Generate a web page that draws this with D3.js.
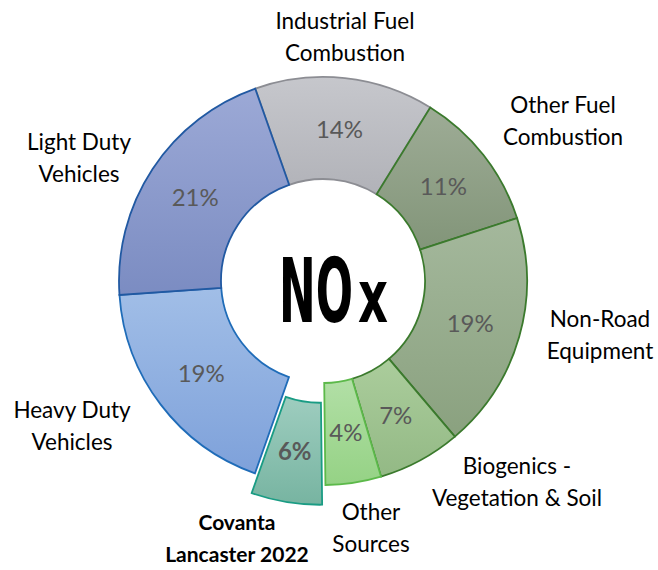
<!DOCTYPE html>
<html>
<head>
<meta charset="utf-8">
<script src="https://cdn.jsdelivr.net/npm/d3@7"></script>
<style>
body { margin: 0; background: #fff; }
svg { display: block; }
</style>
</head>
<body>
<div class="container"></div>
<script>
// slices, clockwise from the top
var categories = ["Industrial Fuel Combustion", "Other Fuel Combustion", "Non-Road Equipment",
  "Biogenics - Vegetation & Soil", "Other Sources", "Covanta Lancaster 2022",
  "Heavy Duty Vehicles", "Light Duty Vehicles"];
var values = [14.2, 11.2, 18.8, 6.6, 4.4, 5.6, 18.5, 20.7];
var labelLines = [["Industrial Fuel", "Combustion"], ["Other Fuel", "Combustion"], ["Non-Road", "Equipment"],
  ["Biogenics -", "Vegetation & Soil"], ["Other", "Sources"], ["Covanta", "Lancaster 2022"],
  ["Heavy Duty", "Vehicles"], ["Light Duty", "Vehicles"]];
var labelPos = [[345, 29], [563, 113], [600, 327], [517, 474], [371, 520], [237, 530], [72, 418], [79, 150]];
var fillTop = ["#c6c7cc", "#9eac96", "#a4b89c", "#abcd9c", "#b2dfa6", "#9ecdbf", "#a1bee7", "#9ca9d6"];
var fillBot = ["#b1b2b8", "#829579", "#8aa17f", "#93b985", "#95d285", "#77b4a1", "#7ea1da", "#7b8cc2"];
var strokes = ["#8c8d93", "#3b7a2d", "#3b7a2d", "#3b7a2d", "#5cb94a", "#1a9c84", "#1f6cb8", "#2159a2"];
var highlight = "Covanta Lancaster 2022";

var width = 658, height = 570;
var cx = 323, cy = 281, outerR = 204, innerR = 102, explode = 20;
var start = -19.4 * Math.PI / 180;

var svg = d3.select('.container').append('svg')
  .attr("width", width)
  .attr("height", height);

var defs = svg.append('defs');
categories.forEach(function(c, i){
  var g = defs.append('linearGradient')
    .attr("id", "grad" + i)
    .attr("x1", 0).attr("y1", 0).attr("x2", 0).attr("y2", 1);
  g.append('stop').attr("offset", "0%").attr("stop-color", fillTop[i]);
  g.append('stop').attr("offset", "100%").attr("stop-color", fillBot[i]);
});

var pie = d3.pie().sort(null).value(function(d){return d.value;})
  .startAngle(start).endAngle(start + 2 * Math.PI);
var arc = d3.arc().innerRadius(innerR).outerRadius(outerR);
var labelArc = d3.arc().innerRadius(153).outerRadius(153);

var data = categories.map(function(c, i){ return {name: c, value: values[i], idx: i}; });
var arcs = pie(data);

var offset = function(d){
  if (d.data.name != highlight) return [0, 0];
  var a = (d.startAngle + d.endAngle) / 2;
  return [Math.sin(a) * explode, -Math.cos(a) * explode];
};

var chart = svg.append('g').attr("transform", "translate(" + cx + "," + cy + ")");

var slices = chart.selectAll('g.slice')
  .data(arcs).enter()
  .append('g')
  .attr("class", "slice")
  .attr("transform", function(d){ var o = offset(d); return "translate(" + o[0] + "," + o[1] + ")"; });

slices.append('path')
  .attr("d", arc)
  .attr("fill", function(d){ return "url(#grad" + d.data.idx + ")"; })
  .attr("stroke", function(d){ return strokes[d.data.idx]; })
  .attr("stroke-width", 1.8)
  .attr("stroke-linejoin", "miter");

slices.append('text')
  .attr("transform", function(d){ return "translate(" + labelArc.centroid(d) + ")"; })
  .attr("text-anchor", "middle")
  .attr("dy", "0.36em")
  .style("font-family", "Lato, 'Open Sans', sans-serif")
  .style("font-size", "24px")
  .style("font-weight", function(d){ return d.data.name == highlight ? "bold" : "normal"; })
  .attr("fill", "#595959")
  .text(function(d){ return Math.round(d.data.value) + "%"; });

// category labels
var cats = svg.append('g').selectAll('text')
  .data(data).enter()
  .append('text')
  .attr("x", function(d){ return labelPos[d.idx][0]; })
  .attr("y", function(d){ return labelPos[d.idx][1]; })
  .attr("text-anchor", "middle")
  .style("font-family", "Lato, 'Open Sans', sans-serif")
  .style("font-size", function(d){ return d.name == highlight ? "21px" : "22.5px"; })
  .style("font-weight", function(d){ return d.name == highlight ? "bold" : "normal"; })
  .attr("fill", "#000");

cats.selectAll('tspan')
  .data(function(d){ return labelLines[d.idx].map(function(t){ return {t: t, x: labelPos[d.idx][0]}; }); })
  .enter()
  .append('tspan')
  .attr("x", function(d){ return d.x; })
  .attr("dy", function(d, i){ return i == 0 ? 0 : 32; })
  .text(function(d){ return d.t; });

// centre title: "NO" and a smaller "x", each squeezed to the width seen in the picture
var titleFont = "'DejaVu Sans Condensed', 'DejaVu Sans', sans-serif";
var squeeze = function(txt, size, x, w){
  var t = svg.append('text')
    .style("font-family", titleFont)
    .style("font-weight", "bold")
    .style("font-size", size + "px")
    .attr("fill", "#000")
    .text(txt);
  var b = t.node().getBBox();
  var k = w / b.width;
  t.attr("transform", "translate(" + (x - b.x * k) + ",322) scale(" + k + ",1)");
  return t;
};
squeeze("NO", 89, 279, 74);
squeeze("x", 73, 358, 30);
</script>
</body>
</html>
